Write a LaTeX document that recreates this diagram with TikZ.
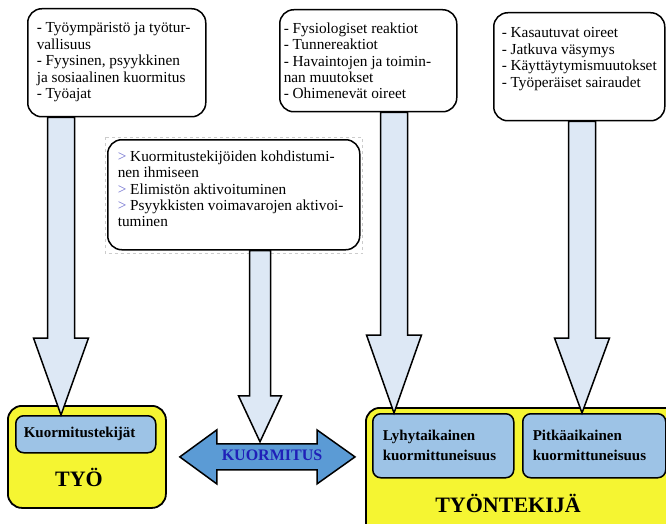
\documentclass[tikz,border=0pt]{standalone}
\usepackage{fontspec}
\setmainfont{Liberation Serif}
\usepackage{tikz}
\usetikzlibrary{calc}
\usepackage{xcolor}

\definecolor{boxyellow}{HTML}{F5F532}
\definecolor{boxblue}{HTML}{9DC3E6}
\definecolor{arrowfill}{HTML}{DDE8F5}
\definecolor{loadblue}{HTML}{5B9BD5}
\definecolor{loadtext}{HTML}{2020B8}
\definecolor{bulletblue}{HTML}{7070D0}

% x, shaft half width, head half width, head length, from, to
\newcommand{\bigdown}[6]{%
	\draw[bigarrow] let \p1=(#5.south), \p2=(#6.north) in
	({#1pt-#2pt},\y1) -- ({#1pt-#2pt},\y2+#4pt) -- ({#1pt-#3pt},\y2+#4pt)
	-- (#1pt,\y2) -- ({#1pt+#3pt},\y2+#4pt) -- ({#1pt+#2pt},\y2+#4pt)
	-- ({#1pt+#2pt},\y1) -- cycle;}
\newcommand{\itemgt}{{\color{bulletblue}>}}

\begin{document}
\begin{tikzpicture}[x=1pt,y=-1pt,
	info/.style={draw,line width=1.5pt,rounded corners=14pt,fill=white,
		anchor=north west,font=\fontsize{15.3}{16.4}\selectfont},
	tag/.style={draw,line width=1.5pt,rounded corners=8pt,fill=boxblue,
		anchor=north west,inner sep=0pt,align=left,
		font=\bfseries\fontsize{15}{20}\selectfont},
	yellowbox/.style={draw,line width=1.8pt,rounded corners=14pt,
		fill=boxyellow,anchor=north west,inner sep=0pt},
	title/.style={font=\bfseries\fontsize{22}{24}\selectfont},
	bigarrow/.style={draw,line width=1.5pt,fill=arrowfill,line join=miter},
	loadarrow/.style={draw,line width=1.5pt,fill=loadblue,line join=miter},
	selframe/.style={draw=gray!40,dashed,line width=0.5pt}]
	
	\useasboundingbox (0,0) rectangle (666,524);
	\clip (0,0) rectangle (666,524);
	
	% work and worker
	\node[yellowbox,minimum width=158pt,minimum height=102pt] (tyo) at (7,405) {};
	\node[yellowbox,minimum width=330pt,minimum height=140pt] (worker) at (365,407) {};
	\node[title] (tyolabel) at (79,477) {TYÖ};
	\node[title] (workerlabel) at (508,503) {TYÖNTEKIJÄ};
	
	\node[tag,minimum width=140pt,minimum height=37pt,text width=124pt]
	(factors) at (15,415) {Kuormitustekijät};
	\node[tag,minimum width=141pt,minimum height=64pt,text width=121pt]
	(short) at (372,413) {Lyhytaikainen\\kuormittuneisuus};
	\node[tag,minimum width=143pt,minimum height=64pt,text width=123pt]
	(long) at (522,413) {Pitkäaikainen\\kuormittuneisuus};
	
	% lists
	\node[info,inner xsep=9pt,inner ysep=14pt] (env) at (27,8)
	{\parbox[t][80pt][t]{160pt}{\raggedright
			- Työympäristö ja työtur-\\
			vallisuus\\
			- Fyysinen, psyykkinen\\
			ja sosiaalinen kuormitus\\
			- Työajat}};
	
	\node[info,inner xsep=4pt,inner ysep=13pt] (react) at (279,9)
	{\parbox[t][76pt][t]{169pt}{\raggedright
			- Fysiologiset reaktiot\\
			- Tunnereaktiot\\
			- Havaintojen ja toimin-\\
			nan muutokset\\
			- Ohimenevät oireet}};
	
	\node[info,inner xsep=8pt,inner ysep=15pt] (chronic) at (493,12)
	{\parbox[t][78pt][t]{155pt}{\raggedright
			- Kasautuvat oireet\\
			- Jatkuva väsymys\\
			- Käyttäytymismuutokset\\
			- Työperäiset sairaudet}};
	
	\node[info,inner xsep=10pt,inner ysep=11pt] (mid) at (107,139)
	{\parbox[t][88pt][t]{232pt}{\raggedright
			\itemgt{} Kuormitustekijöiden kohdistumi-\\
			nen ihmiseen\\
			\itemgt{} Elimistön aktivoituminen\\
			\itemgt{} Psyykkisten voimavarojen aktivoi-\\
			tuminen}};
	\draw[selframe] ([shift={(-2,-2)}]mid.north west) rectangle ([shift={(2,3)}]mid.south east);
	
	% load
	\draw[loadarrow] let \p1=(tyo.east), \p2=(worker.west) in
	(\x1+13pt,\y1) -- (\x1+50pt,\y1+27pt) -- (\x1+50pt,\y1+13pt)
	-- (\x2-48pt,\y1+13pt) -- (\x2-48pt,\y1+27pt) -- (\x2-10pt,\y1)
	-- (\x2-48pt,\y1-27pt) -- (\x2-48pt,\y1-13pt) -- (\x1+50pt,\y1-13pt)
	-- (\x1+50pt,\y1-27pt) -- cycle;
	\node[font=\bfseries\fontsize{16}{18}\selectfont,text=loadtext,
	minimum height=26pt,inner sep=0pt] (kuorm) at (272,455) {KUORMITUS};
	
	\bigdown{61}{13.5}{27.5}{77}{env}{factors}
	\bigdown{394}{13.5}{27.5}{78}{react}{short}
	\bigdown{582}{13.5}{27.5}{75}{chronic}{long}
	\bigdown{260}{10.5}{21.5}{46}{mid}{kuorm}
	
\end{tikzpicture}
\end{document}
